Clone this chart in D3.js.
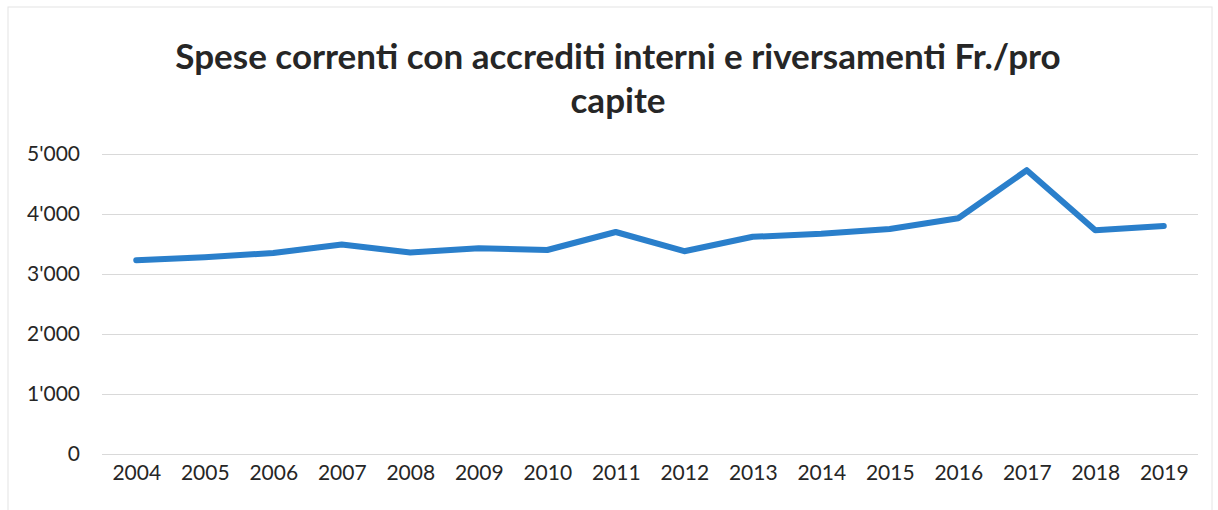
<!DOCTYPE html>
<html>
<head>
<meta charset="utf-8">
<script src="https://cdn.jsdelivr.net/npm/d3@7"></script>
<style>
  body { margin: 0; background: #fff; }
  svg { display: block; }
</style>
</head>
<body>
<div class="canvas"></div>
<script>
// Data
const years = ["2004", "2005", "2006", "2007", "2008", "2009", "2010", "2011",
  "2012", "2013", "2014", "2015", "2016", "2017", "2018", "2019"];
const spese = [3230, 3280, 3350, 3490, 3360, 3430, 3400, 3700,
  3380, 3620, 3670, 3750, 3930, 4730, 3730, 3800];
const yTicks = [0, 1000, 2000, 3000, 4000, 5000];
const titleLines = ["Spese correnti con accrediti interni e riversamenti Fr./pro", "capite"];

const dims = { width: 1218, height: 510 };
const plot = { left: 102, right: 1198, top: 154, bottom: 454 };
const font = "Lato, 'Open Sans', sans-serif";

const svg = d3
  .select(".canvas")
  .append("svg")
  .attr("width", dims.width)
  .attr("height", dims.height);

// faint chart frame
svg.append("rect")
  .attr("x", 8).attr("y", 7)
  .attr("width", dims.width - 14).attr("height", dims.height - 4)
  .attr("fill", "none")
  .attr("stroke", "#e4e4e4")
  .attr("stroke-width", 1);

// Title
svg.append("g")
  .selectAll("text")
  .data(titleLines)
  .join("text")
  .attr("x", 618)
  .attr("y", (d, i) => 69 + i * 44)
  .attr("text-anchor", "middle")
  .attr("font-family", font)
  .attr("font-weight", 700)
  .attr("font-size", 35)
  .attr("fill", "#262626")
  .text((d) => d);

// Scales
const x = d3.scalePoint()
  .domain(years)
  .range([plot.left, plot.right])
  .padding(0.5);

const y = d3.scaleLinear()
  .domain([0, 5000])
  .range([plot.bottom, plot.top]);

// Gridlines + y labels
const yAxis = svg.append("g")
  .attr("transform", `translate(${plot.left},0)`)
  .call(d3.axisLeft(y)
    .tickValues(yTicks)
    .tickSize(-(plot.right - plot.left))
    .tickPadding(22)
    .tickFormat((d) => d3.format(",")(d).replace(/,/g, "'")));

yAxis.select(".domain").remove();
yAxis.selectAll("line").attr("stroke", "#d9d9d9").attr("stroke-width", 1);
yAxis.selectAll("text")
  .attr("font-family", font)
  .attr("font-size", 21)
  .attr("fill", "#262626");

// x labels
const xAxis = svg.append("g")
  .attr("transform", `translate(0,${plot.bottom})`)
  .call(d3.axisBottom(x).tickSize(0).tickPadding(11));

xAxis.select(".domain").remove();
xAxis.selectAll("text")
  .attr("font-family", font)
  .attr("font-size", 21)
  .attr("fill", "#262626");

// Line
const line = d3.line()
  .x((d, i) => x(years[i]))
  .y((d) => y(d));

svg.append("path")
  .datum(spese)
  .attr("d", line)
  .attr("fill", "none")
  .attr("stroke", "#2a7fcb")
  .attr("stroke-width", 6)
  .attr("stroke-linejoin", "round")
  .attr("stroke-linecap", "round");
</script>
</body>
</html>
